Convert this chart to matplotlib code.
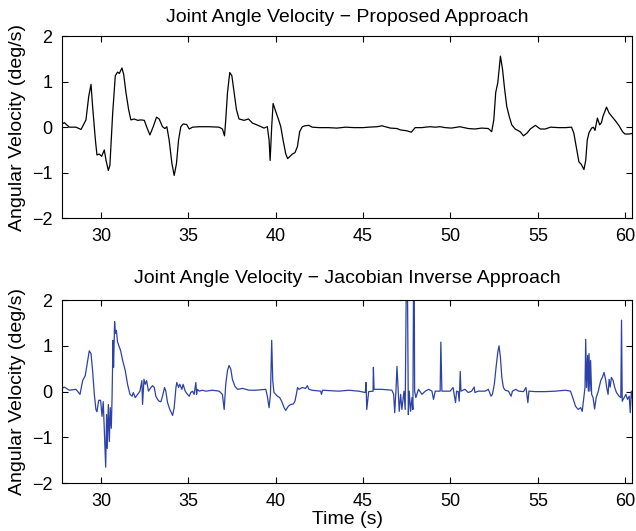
import numpy as np
import matplotlib
matplotlib.use('Agg')
import matplotlib.pyplot as plt

plt.rcParams['font.family'] = ['Liberation Sans', 'DejaVu Sans']

# proposed approach (black trace)
t_prop = [27.7, 27.90, 28.19, 28.57, 28.86, 29.14, 29.30, 29.43, 29.52, 29.68,
          29.77, 29.90, 30.04, 30.19, 30.29, 30.42, 30.51, 30.67, 30.82, 30.95,
          31.05, 31.20, 31.30, 31.43, 31.58, 31.71, 31.90, 32.10, 32.29, 32.48,
          32.61, 32.80, 32.99, 33.18, 33.33, 33.52, 33.66, 33.77, 33.90, 34.06,
          34.19, 34.32, 34.44, 34.57, 34.70, 34.90, 35.05, 35.24, 35.62, 36.19,
          36.76, 36.95, 37.07, 37.14, 37.24, 37.37, 37.49, 37.62, 37.75, 37.90,
          38.19, 38.44, 38.67, 39.05, 39.33, 39.52, 39.62, 39.68, 39.77, 39.85,
          39.96, 40.15, 40.29, 40.42, 40.57, 40.68, 40.82, 40.95, 41.10, 41.24,
          41.37, 41.52, 41.67, 41.90, 42.09, 42.5, 43.0, 43.5, 44.0, 44.5,
          45.0, 45.32, 45.80, 46.08, 46.56, 46.94, 47.13, 47.51, 47.76, 47.98,
          48.37, 48.56, 48.84, 49.13, 49.41, 49.70, 50.06, 50.54, 51.02, 51.40,
          51.79, 52.17, 52.36, 52.48, 52.59, 52.71, 52.86, 52.98, 53.09, 53.22,
          53.36, 53.51, 53.70, 53.99, 54.18, 54.38, 54.57, 54.86, 55.14, 55.43,
          55.72, 56.20, 56.58, 56.93, 57.06, 57.20, 57.35, 57.49, 57.64, 57.74,
          57.83, 57.93, 58.08, 58.18, 58.27, 58.41, 58.54, 58.64, 58.73, 58.93,
          59.08, 59.27, 59.46, 59.65, 59.85, 59.98, 60.23, 60.52]
v_prop = [0.05, 0.10, 0.0, 0.0, -0.05, 0.16, 0.68, 0.94, 0.46, -0.28,
          -0.61, -0.59, -0.64, -0.50, -0.73, -0.95, -0.84, 0.31, 1.13, 1.21,
          1.18, 1.30, 1.16, 0.76, 0.39, 0.16, 0.18, 0.15, 0.16, 0.15,
          0.01, -0.17, 0.01, 0.22, 0.18, 0.01, -0.03, 0.01, -0.28, -0.80,
          -1.06, -0.80, -0.28, 0.01, 0.07, 0.06, -0.04, 0.0, 0.01, 0.01,
          0.0, -0.04, -0.19, 0.16, 0.76, 1.20, 1.13, 0.76, 0.39, 0.18,
          0.15, 0.18, 0.09, 0.03, -0.02, 0.01, -0.28, -0.73, 0.01, 0.52,
          0.39, 0.18, 0.01, -0.28, -0.58, -0.69, -0.64, -0.59, -0.56, -0.43,
          -0.10, 0.01, 0.03, 0.04, 0.0, -0.01, -0.01, -0.02, 0.0, -0.01,
          -0.01, 0.0, 0.01, 0.03, -0.02, -0.03, -0.06, -0.08, -0.11, -0.01,
          -0.01, 0.0, 0.01, 0.0, 0.01, -0.01, -0.02, 0.01, -0.03, -0.04,
          -0.02, -0.03, -0.10, 0.16, 0.76, 0.98, 1.56, 1.27, 0.87, 0.46,
          0.24, 0.05, -0.04, -0.10, -0.19, -0.13, -0.04, 0.04, -0.04, -0.04,
          0.0, -0.01, -0.01, 0.0, -0.13, -0.43, -0.76, -0.82, -0.93, -0.73,
          -0.28, -0.12, -0.02, 0.0, -0.07, 0.20, 0.05, 0.10, 0.24, 0.44,
          0.31, 0.22, 0.13, 0.03, -0.10, -0.15, -0.15, -0.13]

# jacobian inverse approach (blue trace)
t_jac = [27.71, 27.90, 28.19, 28.57, 28.80, 28.95, 29.10, 29.24, 29.33, 29.43,
         29.52, 29.62, 29.71, 29.77, 29.87, 29.98, 30.06, 30.13, 30.21, 30.27,
         30.32, 30.36, 30.42, 30.48, 30.53, 30.59, 30.63, 30.69, 30.72, 30.78,
         30.82, 30.88, 30.95, 31.05, 31.12, 31.24, 31.39, 31.52, 31.66, 31.78,
         31.85, 31.96, 32.10, 32.23, 32.34, 32.38, 32.46, 32.53, 32.61, 32.72,
         32.86, 32.95, 33.05, 33.14, 33.24, 33.33, 33.43, 33.52, 33.64, 33.71,
         33.81, 33.94, 34.10, 34.19, 34.29, 34.34, 34.44, 34.51, 34.63, 34.70,
         34.82, 34.95, 35.05, 35.14, 35.24, 35.33, 35.43, 35.47, 35.52, 35.62,
         35.81, 36.00, 36.38, 36.76, 36.95, 37.05, 37.14, 37.24, 37.33, 37.43,
         37.52, 37.66, 37.81, 38.10, 38.48, 38.86, 39.43, 39.52, 39.62, 39.70,
         39.77, 39.83, 39.90, 40.10, 40.23, 40.34, 40.48, 40.57, 40.72, 40.86,
         41.01, 41.10, 41.18, 41.25, 41.33, 41.52, 41.71, 41.81, 41.90, 42.09,
         42.57, 42.62, 42.68, 43.61, 44.18, 44.75, 45.13, 45.17, 45.21, 45.32,
         45.57, 45.59, 45.63, 46.08, 46.65, 46.75, 46.81, 46.88, 46.94, 47.00,
         47.07, 47.15, 47.22, 47.34, 47.41, 47.51, 47.59, 47.64, 47.72, 47.80,
         47.85, 47.91, 47.95, 48.02, 48.17, 48.37, 48.56, 48.75, 48.94, 49.03,
         49.13, 49.41, 49.45, 49.51, 49.98, 50.15, 50.21, 50.29, 50.35, 50.44,
         50.50, 50.56, 50.60, 50.83, 51.02, 51.21, 51.36, 51.40, 51.59, 51.98,
         52.17, 52.32, 52.40, 52.51, 52.61, 52.71, 52.78, 52.86, 52.94, 53.03,
         53.13, 53.32, 53.47, 53.55, 53.74, 53.90, 54.18, 54.32, 54.43, 54.49,
         54.86, 55.43, 56.01, 56.58, 56.87, 56.97, 57.16, 57.31, 57.45, 57.54,
         57.60, 57.70, 57.74, 57.79, 57.85, 57.89, 57.93, 57.98, 58.02, 58.08,
         58.16, 58.25, 58.34, 58.46, 58.60, 58.69, 58.79, 58.89, 58.94, 59.02,
         59.08, 59.14, 59.21, 59.31, 59.40, 59.50, 59.65, 59.75, 59.79, 59.83,
         59.94, 60.04, 60.13, 60.23, 60.29, 60.35, 60.42, 60.52]
v_jac = [0.05, 0.10, 0.03, 0.05, -0.06, 0.24, 0.35, 0.68, 0.89, 0.83,
         0.46, -0.06, -0.39, -0.44, -0.19, -0.19, -0.54, -0.22, -1.02, -1.65,
         -0.50, -1.24, -0.28, -1.09, -0.35, -0.80, -0.21, 1.12, 0.53, 1.53,
         1.27, 1.34, 1.08, 0.97, 0.90, 0.68, 0.46, 0.16, -0.06, -0.10,
         -0.02, -0.13, -0.06, 0.01, 0.24, -0.28, 0.27, 0.16, 0.24, 0.01,
         0.09, 0.13, 0.09, -0.10, -0.17, -0.21, -0.22, -0.10, 0.09, 0.01,
         -0.24, -0.39, -0.52, -0.35, 0.09, 0.20, 0.09, 0.16, 0.05, 0.16,
         0.01, -0.06, -0.10, -0.02, 0.01, -0.06, 0.20, -0.06, 0.05, 0.01,
         0.03, 0.01, 0.03, 0.01, -0.06, -0.39, 0.16, 0.46, 0.57, 0.49,
         0.27, 0.12, 0.05, 0.07, 0.03, 0.03, 0.05, -0.10, -0.35, -0.06,
         1.12, 0.24, -0.02, -0.10, -0.13, -0.21, -0.35, -0.41, -0.32, -0.28,
         -0.27, -0.21, -0.06, 0.09, 0.05, 0.09, 0.07, 0.13, 0.05, 0.03,
         0.01, -0.06, 0.03, 0.01, 0.03, 0.01, -0.02, 0.20, -0.39, 0.0,
         0.01, 0.53, 0.05, 0.05, 0.03, -0.06, -0.46, 0.01, 0.55, 0.09,
         -0.43, -0.06, -0.39, 0.01, -0.39, 4.0, -0.50, 0.01, -0.43, -0.13,
         -0.39, 4.0, 0.01, -0.13, 0.05, -0.06, 0.01, 0.05, 0.01, -0.17,
         0.01, 0.01, 1.08, 0.01, 0.01, 0.09, -0.06, -0.24, 0.01, 0.0,
         -0.21, 0.44, 0.01, 0.05, -0.02, 0.01, 0.10, -0.02, 0.01, 0.01,
         0.05, -0.10, -0.06, 0.16, 0.53, 0.86, 1.0, 0.75, 0.31, 0.09,
         0.03, 0.01, -0.10, 0.01, 0.05, 0.01, 0.0, 0.09, -0.24, 0.01,
         0.0, 0.0, 0.01, 0.03, 0.01, -0.10, -0.32, -0.39, -0.35, -0.43,
         -0.24, 0.09, 1.14, 0.09, 0.79, 0.01, 0.83, 0.01, 0.68, -0.06,
         -0.13, -0.38, -0.13, 0.01, 0.24, 0.31, 0.42, 0.24, 0.09, -0.06,
         0.27, 0.10, 0.31, 0.24, 0.09, -0.02, -0.10, -0.13, 1.56, -0.21,
         -0.13, -0.06, -0.17, -0.10, -0.46, 0.01, -0.17, -0.06]

xticks = [30, 35, 40, 45, 50, 55, 60]
yticks = [-2, -1, 0, 1, 2]

fig = plt.figure(figsize=(6.36, 5.31), dpi=100)
ax1 = fig.add_axes([0.0975, 0.589, 0.8965, 0.343])
ax2 = fig.add_axes([0.0975, 0.090, 0.8965, 0.345])

ax1.plot(t_prop, v_prop, color='black', lw=0.9)
ax2.plot(t_jac, v_jac, color='#2D42A6', lw=0.9)

for ax, title in [(ax1, 'Joint Angle Velocity \u2212 Proposed Approach'),
                  (ax2, 'Joint Angle Velocity \u2212 Jacobian Inverse Approach')]:
    ax.set_xlim(27.77, 60.4)
    ax.set_ylim(-2, 2)
    ax.set_xticks(xticks)
    ax.set_yticks(yticks)
    ax.tick_params(direction='in', top=True, right=True, labelsize=13, length=4, pad=7)
    ax.set_ylabel('Angular Velocity (deg/s)', fontsize=14, labelpad=4)
    for s in ax.spines.values():
        s.set_linewidth(0.8)

ax1.set_title('Joint Angle Velocity \u2212 Proposed Approach', fontsize=14, pad=10)
ax2.set_title('Joint Angle Velocity \u2212 Jacobian Inverse Approach', fontsize=14, pad=12)
ax2.set_xlabel('Time (s)', fontsize=14, labelpad=1)

fig.savefig('out.png', dpi=100)
